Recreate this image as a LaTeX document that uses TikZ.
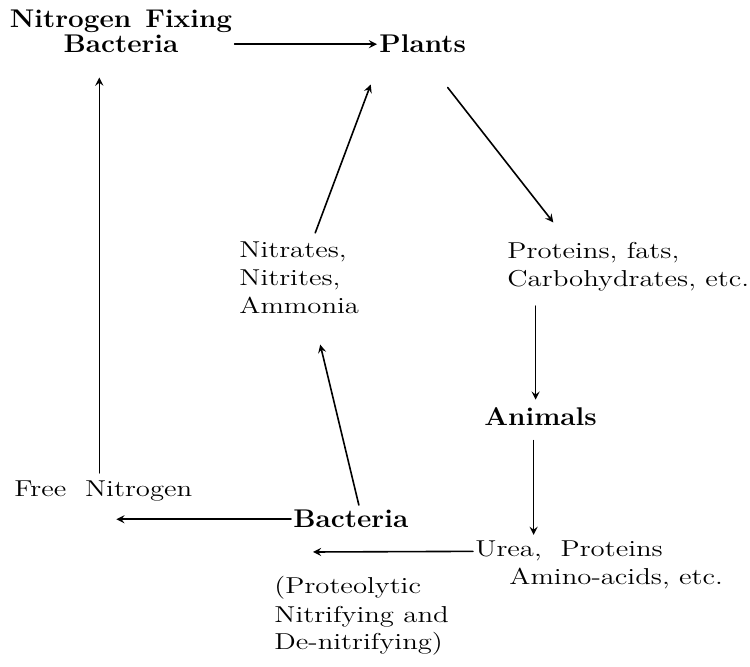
\documentclass[tikz,border=0pt]{standalone}
\usepackage{fontspec}
\setmainfont{Latin Modern Roman}[UprightFeatures={FakeStretch=1.25},BoldFeatures={FakeStretch=1.09}]
\usetikzlibrary{calc}

\tikzset{
	lbl/.style={inner sep=1pt, font=\fontsize{11.5}{14}\selectfont, align=left, anchor=base west},
	head/.style={inner sep=1pt, font=\fontsize{12.8}{12.5}\selectfont\bfseries},
	flow/.style={->, line width=0.8pt}
}

\begin{document}
\begin{tikzpicture}[x=0.5pt, y=-0.5pt, >=stealth, line join=round, line cap=round]
	\useasboundingbox (0,0) rectangle (750,667);
	% Kreislauf: Knoten (base = letzte Zeile)
	\node[head, align=center, anchor=base] (nfb) at (121,53) {Nitrogen\hspace{7pt}Fixing\\Bacteria};
	\node[head, anchor=base west] (plants) at (377,53) {Plants};
	\node[lbl] (nitr) at (237,314) {Nitrates,\\Nitrites,\\Ammonia};
	\node[lbl] (prot) at (505,287) {Proteins, fats,\\Carbohydrates, etc.};
	\node[head, anchor=base west] (anim) at (482,426) {Animals};
	\node[lbl] (freen) at (12,497) {Free\ \ Nitrogen};
	\node[head, anchor=base west] (bact) at (291,528) {Bacteria};
	\node[lbl] (urea) at (473,585) {Urea,\ \ Proteins\\\hspace*{17pt}Amino-acids, etc.};
	\node[lbl] (bnote) at (272,650) {(Proteolytic\\Nitrifying and\\De-nitrifying)};
	\coordinate (uend) at (313,552);
	
	% Pfeile
	\draw[flow] (nfb.east |- plants.west) -- (plants.west);
	\draw[flow] ($(freen.north)+(-4,-6)$) -- ($(freen.north |- nfb.south)+(-4,22)$);
	\draw[flow] ($(nitr.north)+(16,-7)$) -- ($(plants.south)+(-52,29)$);
	\draw[flow] ($(plants.south)+(25,32)$) -- ($(prot.north)+(-75,-18)$);
	\draw[flow] ($(anim.north |- prot.south)+(-5,12)$) -- ($(anim.north)+(-5,-6)$);
	\draw[flow] ($(anim.south)+(-7,12)$) -- ($(anim.south |- urea.north)+(-7,-4)$);
	\draw[flow] ($(bact.north)+(8,-3)$) -- ($(nitr.south)+(21,28)$);
	\draw[flow] (bact.west) -- ($(bact.west -| freen.south)+(13,0)$);
	\draw[flow] ($(urea.west)+(0,-14)$) -- (uend);
\end{tikzpicture}
\end{document}
